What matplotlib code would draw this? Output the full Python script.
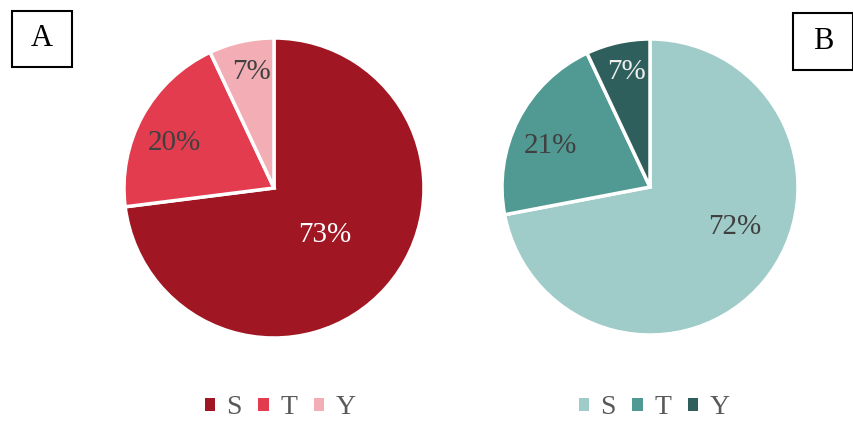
import numpy as np
import matplotlib
matplotlib.use("Agg")
import matplotlib.pyplot as plt
from matplotlib.patches import Rectangle

plt.rcParams['font.family'] = ['Liberation Serif', 'DejaVu Serif']

categories = ["S", "T", "Y"]
values_a = [73, 20, 7]
values_b = [72, 21, 7]
colors_a = ['#A01622', '#E23C4E', '#F2AEB4']
colors_b = ['#9FCBC8', '#519A93', '#2F5F5C']
label_colors_a = ['white', '#404040', '#404040']
label_colors_b = ['#404040', '#404040', '#EEEEEE']
# placement of each percentage label: fraction of radius, and angle shift (deg) from wedge middle
label_dist_a = [0.46, 0.73, 0.79]
label_shift_a = [-1, 4.5, -1.5]
label_dist_b = [0.63, 0.73, 0.79]
label_shift_b = [14.5, 4.5, -1]

W, H = 854, 421
fig = plt.figure(figsize=(W / 100, H / 100), dpi=100)


def axes_px(cx, cy, r):
    return fig.add_axes([(cx - r) / W, (H - cy - r) / H, 2 * r / W, 2 * r / H])


def draw_pie(ax, values, colors, label_colors, dists, shifts):
    wedges, _ = ax.pie(values, colors=colors, startangle=90, counterclock=False,
                       wedgeprops=dict(edgecolor='white', linewidth=2.5))
    total = sum(values)
    for w, v, c, d, s in zip(wedges, values, label_colors, dists, shifts):
        mid = np.deg2rad((w.theta1 + w.theta2) / 2 + s)
        ax.text(d * np.cos(mid), d * np.sin(mid), f"{round(100 * v / total)}%",
                ha='center', va='center', fontsize=21, color=c)
    ax.set_xlim(-1, 1)
    ax.set_ylim(-1, 1)
    ax.set_aspect('equal')
    ax.axis('off')
    return wedges


ax_a = axes_px(274, 188, 150)
wedges_a = draw_pie(ax_a, values_a, colors_a, label_colors_a, label_dist_a, label_shift_a)
ax_b = axes_px(650, 187, 148)
wedges_b = draw_pie(ax_b, values_b, colors_b, label_colors_b, label_dist_b, label_shift_b)

for wedges, cx in [(wedges_a, 280), (wedges_b, 654)]:
    leg = fig.legend(wedges, categories, loc='center', bbox_to_anchor=(cx / W, 1 - 408 / H),
                     ncol=3, frameon=False, fontsize=20, handlelength=0.38, handleheight=0.38,
                     handletextpad=0.4, columnspacing=0.6, labelcolor='#595959')
    for h in leg.legend_handles:
        h.set_edgecolor('none')

# panel tags
for (x0, y0, x1, y1, letter) in [(12, 11, 72, 67, 'A'), (793, 13, 853, 70, 'B')]:
    fig.patches.append(Rectangle((x0 / W, 1 - y1 / H), (x1 - x0) / W, (y1 - y0) / H,
                                 transform=fig.transFigure, fill=False,
                                 edgecolor='black', linewidth=1.5))
    fig.text((x0 + x1) / 2 / W, 1 - (y0 + y1) / 2 / H, letter, ha='center', va='center',
             fontsize=22, color='black')

plt.savefig("out.png", dpi=100)
plt.close(fig)
